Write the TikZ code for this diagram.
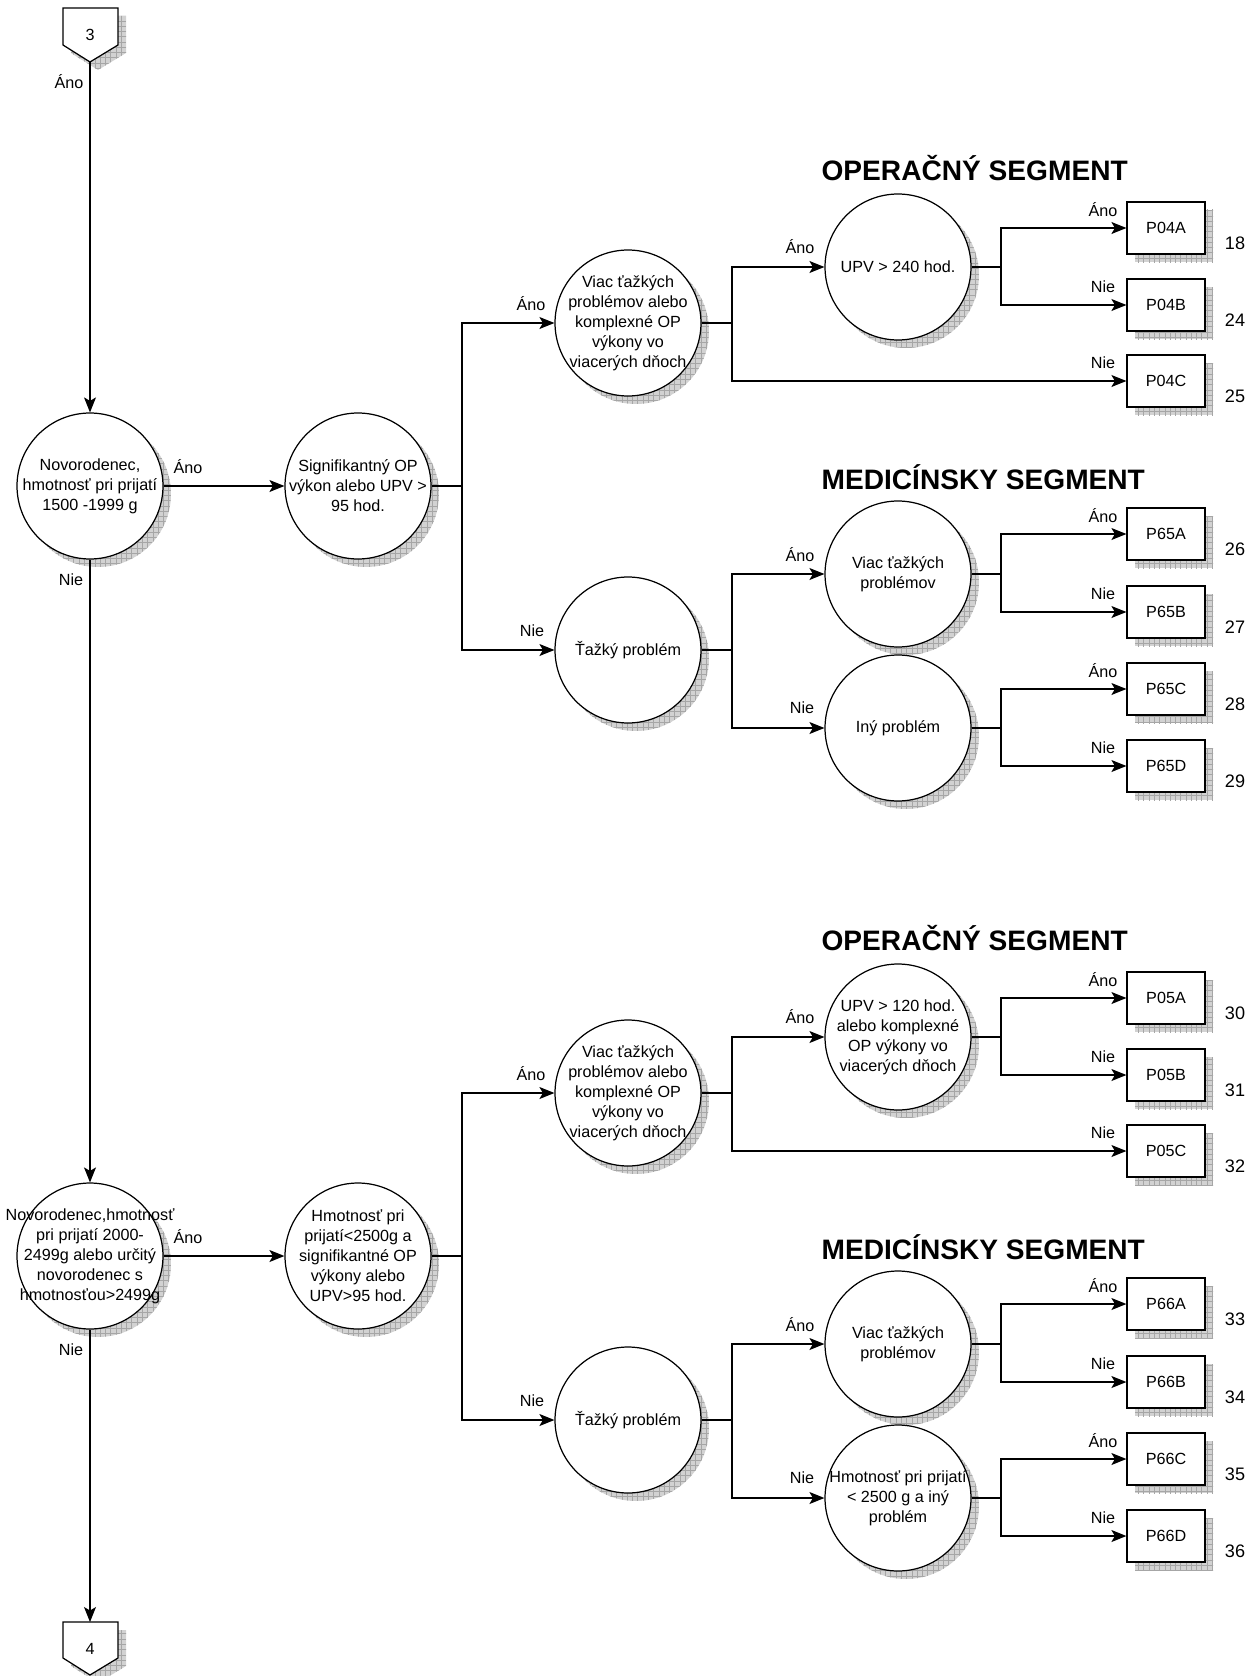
\documentclass[tikz,border=0pt]{standalone}
\usepackage{fontspec}
\setmainfont{Liberation Sans}
\usetikzlibrary{arrows.meta,patterns}

\tikzset{
  circ/.style={circle, draw, fill=white, minimum size=2.92cm, inner sep=0pt},
  ctext/.style={align=center, font=\fontsize{9.2}{11.4}\selectfont, inner sep=0pt},
  pbox/.style={rectangle, draw, fill=white, minimum width=1.56cm, minimum height=1.04cm, inner sep=0pt, font=\fontsize{9.2}{11}\selectfont},
  lbl/.style={font=\fontsize{9.2}{11}\selectfont, inner sep=0pt},
  num/.style={font=\fontsize{10.3}{12}\selectfont, inner sep=0pt},
  segtitle/.style={font=\bfseries\fontsize{16}{19}\selectfont, anchor=west, inner sep=0pt},
  arr/.style={-{Stealth[length=0.3cm,width=0.24cm,inset=0.07cm]}},
  shadowfill/.style={fill=gray!35, postaction={pattern=grid, pattern color=gray!70}},
}

\newcommand\shcirc[3]{%
  \fill[shadowfill, shift={(8,8)}] (#2) circle[radius=1.46cm];
  \node[circ] (#1) at (#2) {};
  \node[ctext] (#1t) at (#1) {#3};
}
\newcommand\shbox[4]{%
  \fill[shadowfill, shift={(8,8)}] (1127,#2-26) rectangle (1205,#2+26);
  \node[pbox] (#1) at (1166,#2) {#1};
  \node[lbl] (#1lbl) at (1103,#2-18) {#3};
  \node[num] (#1num) at (1235,#2+15) {#4};
}

\begin{document}
\begin{tikzpicture}[x=0.02cm, y=-0.02cm, line width=0.7pt]
\useasboundingbox (0,0) rectangle (1258,1676);

% connector 3
\fill[shadowfill, shift={(8,8)}] (63,8) -- (118,8) -- (118,45) -- (90,62) -- (63,45) -- cycle;
\draw[fill=white] (63,8) -- (118,8) -- (118,45) -- (90,62) -- (63,45) -- cycle;
\node[lbl] (c3t) at (90,35) {3};
\coordinate (c3tip) at (90,62);

% connector 4
\fill[shadowfill, shift={(8,8)}] (63,1622) -- (118,1622) -- (118,1658) -- (90,1675) -- (63,1658) -- cycle;
\draw[fill=white] (63,1622) -- (118,1622) -- (118,1658) -- (90,1675) -- (63,1658) -- cycle;
\node[lbl] (c4t) at (90,1649) {4};
\coordinate (c4top) at (90,1622);

% ===== top half =====
\shcirc{A}{90,486}{Novorodenec,\\hmotnosť pri prijatí\\1500 -1999 g}
\shcirc{B}{358,486}{Signifikantný OP\\výkon alebo UPV >\\95 hod.}
\shcirc{C}{628,323}{Viac ťažkých\\problémov alebo\\komplexné OP\\výkony vo\\viacerých dňoch}
\shcirc{D}{628,650}{Ťažký problém}
\shcirc{E}{898,267}{UPV > 240 hod.}
\shcirc{F}{898,574}{Viac ťažkých\\problémov}
\shcirc{G}{898,728}{Iný problém}

\shbox{P04A}{228}{Áno}{18}
\shbox{P04B}{305}{Nie}{24}
\shbox{P04C}{381}{Nie}{25}
\shbox{P65A}{534}{Áno}{26}
\shbox{P65B}{612}{Nie}{27}
\shbox{P65C}{689}{Áno}{28}
\shbox{P65D}{766}{Nie}{29}

\node[segtitle] (t1) at (821,168) {OPERAČNÝ SEGMENT};
\node[segtitle] (t2) at (821,477) {MEDICÍNSKY SEGMENT};

\coordinate (bB) at (462,486);
\coordinate (bC) at (732,323);
\coordinate (bD) at (732,650);
\coordinate (bE) at (1001,267);
\coordinate (bF) at (1001,574);
\coordinate (bG) at (1001,728);

\draw[arr] (c3tip) -- (A.north);
\draw[arr] (A.east) -- (B.west);
\draw[arr] (B.east) -- (bB) |- (C.west);
\draw[arr] (bB) |- (D.west);
\draw[arr] (C.east) -- (bC) |- (E.west);
\draw[arr] (bC) |- (P04C.west);
\draw[arr] (E.east) -- (bE) |- (P04A.west);
\draw[arr] (bE) |- (P04B.west);
\draw[arr] (D.east) -- (bD) |- (F.west);
\draw[arr] (bD) |- (G.west);
\draw[arr] (F.east) -- (bF) |- (P65A.west);
\draw[arr] (bF) |- (P65B.west);
\draw[arr] (G.east) -- (bG) |- (P65C.west);
\draw[arr] (bG) |- (P65D.west);

\node[lbl] (l1) at (69,82) {Áno};
\node[lbl] (l2) at (188,467) {Áno};
\node[lbl] (l3) at (71,580) {Nie};
\node[lbl] (l4) at (531,304) {Áno};
\node[lbl] (l5) at (532,631) {Nie};
\node[lbl] (l6) at (800,247) {Áno};
\node[lbl] (l7) at (800,555) {Áno};
\node[lbl] (l8) at (802,708) {Nie};

% ===== bottom half =====
\shcirc{A2}{90,1256}{Novorodenec,hmotnosť\\pri prijatí 2000-\\2499g alebo určitý\\novorodenec s\\hmotnosťou>2499g}
\shcirc{B2}{358,1256}{Hmotnosť pri\\prijatí<2500g a\\signifikantné OP\\výkony alebo\\UPV>95 hod.}
\shcirc{C2}{628,1093}{Viac ťažkých\\problémov alebo\\komplexné OP\\výkony vo\\viacerých dňoch}
\shcirc{D2}{628,1420}{Ťažký problém}
\shcirc{E2}{898,1037}{UPV > 120 hod.\\alebo komplexné\\OP výkony vo\\viacerých dňoch}
\shcirc{F2}{898,1344}{Viac ťažkých\\problémov}
\shcirc{G2}{898,1498}{Hmotnosť pri prijatí\\< 2500 g a iný\\problém}

\shbox{P05A}{998}{Áno}{30}
\shbox{P05B}{1075}{Nie}{31}
\shbox{P05C}{1151}{Nie}{32}
\shbox{P66A}{1304}{Áno}{33}
\shbox{P66B}{1382}{Nie}{34}
\shbox{P66C}{1459}{Áno}{35}
\shbox{P66D}{1536}{Nie}{36}

\node[segtitle] (t3) at (821,938) {OPERAČNÝ SEGMENT};
\node[segtitle] (t4) at (821,1247) {MEDICÍNSKY SEGMENT};

\coordinate (bB2) at (462,1256);
\coordinate (bC2) at (732,1093);
\coordinate (bD2) at (732,1420);
\coordinate (bE2) at (1001,1037);
\coordinate (bF2) at (1001,1344);
\coordinate (bG2) at (1001,1498);

\draw[arr] (A.south) -- (A2.north);
\draw[arr] (A2.south) -- (c4top);
\draw[arr] (A2.east) -- (B2.west);
\draw[arr] (B2.east) -- (bB2) |- (C2.west);
\draw[arr] (bB2) |- (D2.west);
\draw[arr] (C2.east) -- (bC2) |- (E2.west);
\draw[arr] (bC2) |- (P05C.west);
\draw[arr] (E2.east) -- (bE2) |- (P05A.west);
\draw[arr] (bE2) |- (P05B.west);
\draw[arr] (D2.east) -- (bD2) |- (F2.west);
\draw[arr] (bD2) |- (G2.west);
\draw[arr] (F2.east) -- (bF2) |- (P66A.west);
\draw[arr] (bF2) |- (P66B.west);
\draw[arr] (G2.east) -- (bG2) |- (P66C.west);
\draw[arr] (bG2) |- (P66D.west);

\node[lbl] (m2) at (188,1237) {Áno};
\node[lbl] (m3) at (71,1350) {Nie};
\node[lbl] (m4) at (531,1074) {Áno};
\node[lbl] (m5) at (532,1401) {Nie};
\node[lbl] (m6) at (800,1017) {Áno};
\node[lbl] (m7) at (800,1325) {Áno};
\node[lbl] (m8) at (802,1478) {Nie};

\end{tikzpicture}
\end{document}
